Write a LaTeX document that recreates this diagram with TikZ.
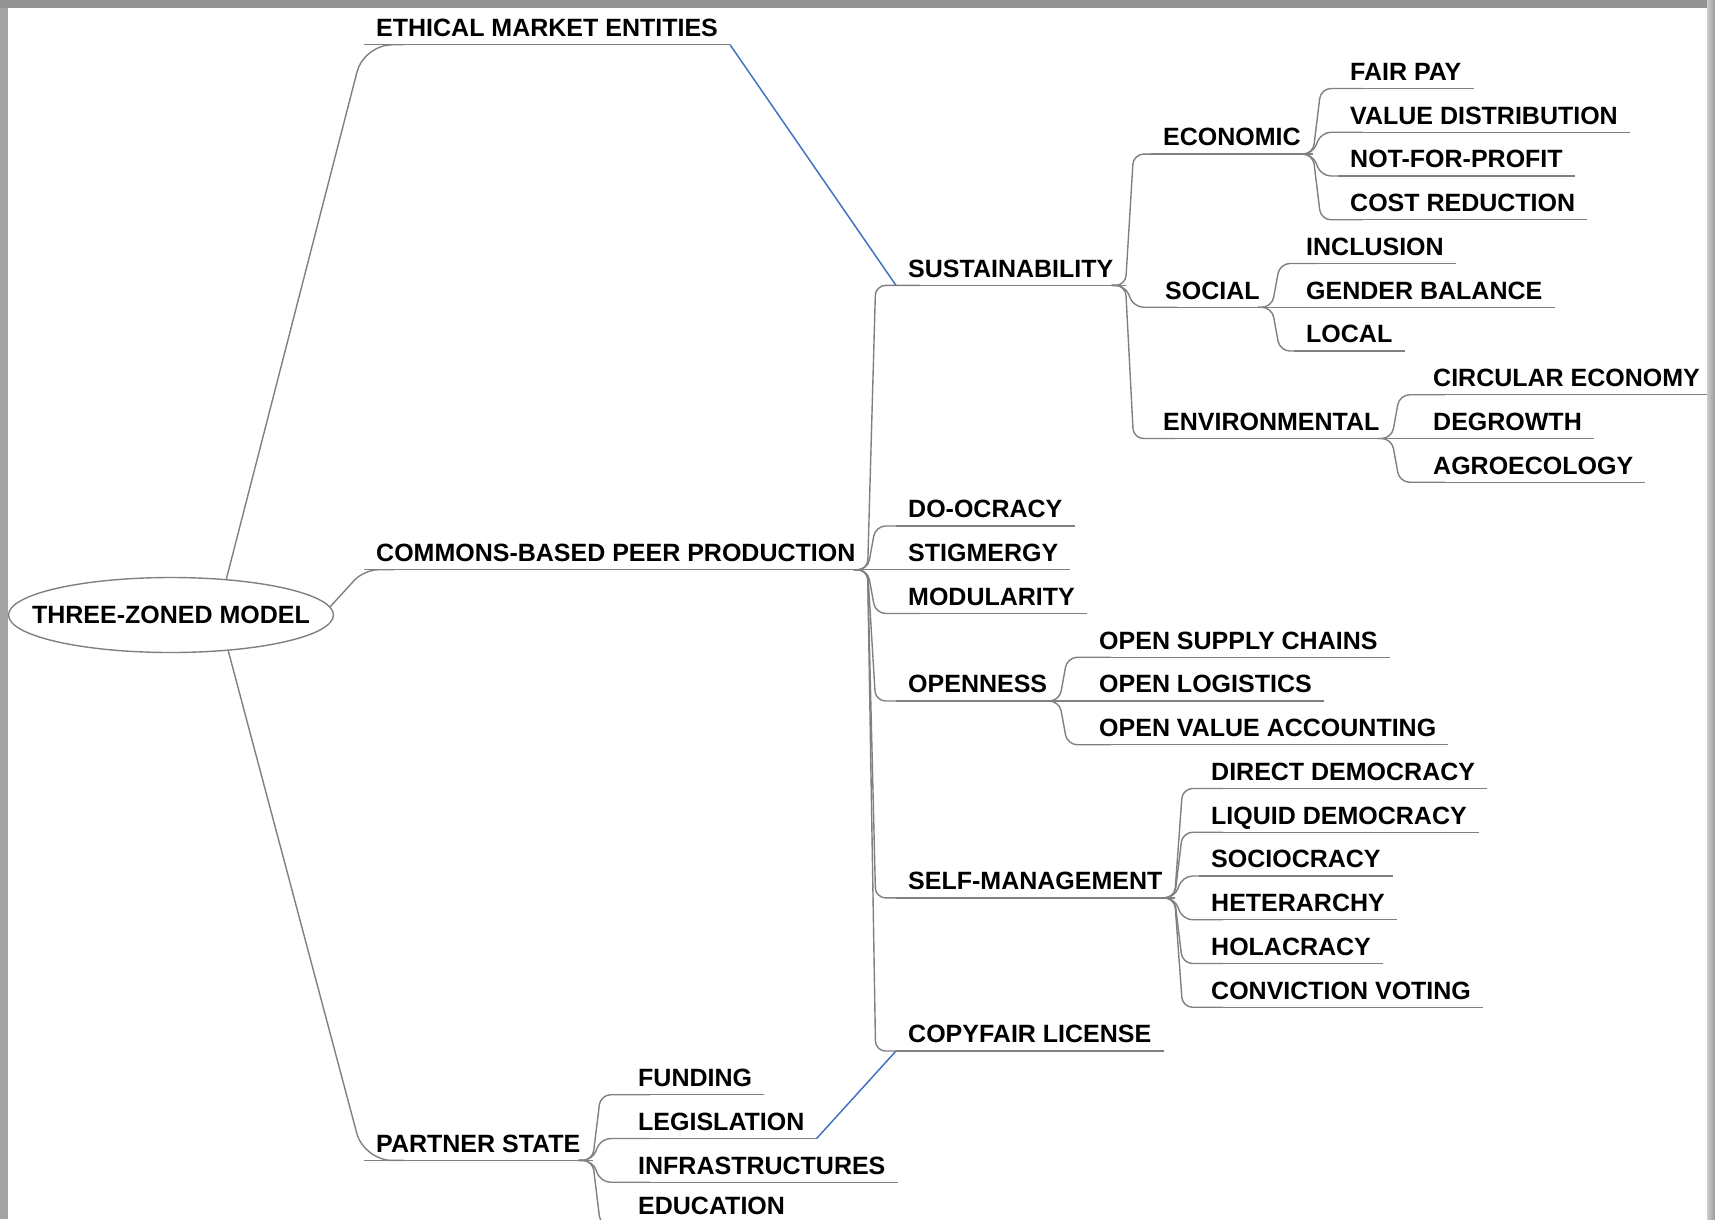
\documentclass[tikz,border=0pt]{standalone}
\usepackage{fontspec}
\setmainfont{Liberation Sans}
\usetikzlibrary{shapes.geometric,calc}
\definecolor{linegray}{RGB}{128,128,128}
\definecolor{linkblue}{RGB}{68,114,196}
\tikzset{
  item/.style={font=\bfseries\fontsize{25}{30}\selectfont, text=black, anchor=south west,
    inner xsep=12pt, inner ysep=0pt, text height=18pt, text depth=8pt},
  uline/.style={draw=linegray, line width=1.4pt},
  conn/.style={draw=linegray, line width=1.4pt, rounded corners=10pt},
  rootconn/.style={draw=linegray, line width=1.4pt, rounded corners=28pt},
  bluelink/.style={draw=linkblue, line width=1.5pt},
  rootnode/.style={ellipse, draw=linegray, line width=1.4pt, minimum width=324pt,
    minimum height=75pt, inner xsep=-24pt, inner ysep=0pt, text=black,
    font=\bfseries\fontsize{25}{30}\selectfont}
}
\newcommand{\fanlink}[2]{\draw[conn] ($(#1.south east)+(-14pt,0)$) -- (#1.south east) -- ($(#1.south east |- #2.south west)+(8pt,0)$) -- ($(#2.south west)+(24pt,0)$);}
\begin{document}
\begin{tikzpicture}[x=1pt,y=-1pt]
\useasboundingbox (0,0) rectangle (1715,1219);
\fill[white] (0,0) rectangle (1715,1219);

% root
\node[rootnode] (root) at (171,615) {THREE-ZONED MODEL};

% level 1
\node[item] (ethical) at (364,44.75) {ETHICAL MARKET ENTITIES};
\node[item] (commons) at (364,569.75) {COMMONS-BASED PEER PRODUCTION};
\node[item] (partner) at (364,1160.375) {PARTNER STATE};

% commons children
\node[item] (sust) at (896,285.375) {SUSTAINABILITY};
\node[item] (doocracy) at (896,526) {DO-OCRACY};
\node[item] (stigmergy) at (896,569.75) {STIGMERGY};
\node[item] (modularity) at (896,613.5) {MODULARITY};
\node[item] (openness) at (896,701) {OPENNESS};
\node[item] (selfm) at (896,897.875) {SELF-MANAGEMENT};
\node[item] (copyfair) at (896,1051) {COPYFAIR LICENSE};

% sustainability children
\node[item] (economic) at (1151,154.125) {ECONOMIC};
\node[item] (social) at (1153,307.25) {SOCIAL};
\node[item] (environ) at (1151,438.5) {ENVIRONMENTAL};

\node[item] (fairpay) at (1338,88.5) {FAIR PAY};
\node[item] (valuedist) at (1338,132.25) {VALUE DISTRIBUTION};
\node[item] (notprofit) at (1338,176) {NOT-FOR-PROFIT};
\node[item] (costred) at (1338,219.75) {COST REDUCTION};

\node[item] (inclusion) at (1294,263.5) {INCLUSION};
\node[item] (gender) at (1294,307.25) {GENDER BALANCE};
\node[item] (local) at (1294,351) {LOCAL};

\node[item] (circular) at (1421,394.75) {CIRCULAR ECONOMY};
\node[item] (degrowth) at (1421,438.5) {DEGROWTH};
\node[item] (agro) at (1421,482.25) {AGROECOLOGY};

% openness children
\node[item] (opensupply) at (1087,657.25) {OPEN SUPPLY CHAINS};
\node[item] (openlog) at (1087,701) {OPEN LOGISTICS};
\node[item] (openvalue) at (1087,744.75) {OPEN VALUE ACCOUNTING};

% self-management children
\node[item] (direct) at (1199,788.5) {DIRECT DEMOCRACY};
\node[item] (liquid) at (1199,832.25) {LIQUID DEMOCRACY};
\node[item] (socio) at (1199,876) {SOCIOCRACY};
\node[item] (heter) at (1199,919.75) {HETERARCHY};
\node[item] (hola) at (1199,963.5) {HOLACRACY};
\node[item] (conviction) at (1199,1007.25) {CONVICTION VOTING};

% partner state children
\node[item] (funding) at (626,1094.75) {FUNDING};
\node[item] (legis) at (626,1138.5) {LEGISLATION};
\node[item] (infra) at (626,1182.25) {INFRASTRUCTURES};
\node[item, anchor=base west, text depth=0pt] (education) at (626,1214) {EDUCATION};
\coordinate (educorner) at (626,1226);

% underlines
\foreach \n in {ethical,commons,partner,sust,doocracy,stigmergy,modularity,openness,selfm,copyfair,
  economic,social,environ,fairpay,valuedist,notprofit,costred,inclusion,gender,local,
  circular,degrowth,agro,opensupply,openlog,openvalue,direct,liquid,socio,heter,hola,conviction,
  funding,legis,infra}
  \draw[uline] (\n.south west) -- (\n.south east);

% root connectors
\draw[rootconn] (root.33) -- (ethical.south west) -- ++(40,0);
\draw[rootconn] (root.-32) -- (partner.south west) -- ++(40,0);
\draw[conn, rounded corners=14pt] (root.3) -- (commons.south west) -- ++(30,0);

% fans
\foreach \c in {sust,doocracy,stigmergy,modularity,openness,selfm,copyfair} {\fanlink{commons}{\c}}
\foreach \c in {economic,social,environ} {\fanlink{sust}{\c}}
\foreach \c in {fairpay,valuedist,notprofit,costred} {\fanlink{economic}{\c}}
\foreach \c in {inclusion,gender,local} {\fanlink{social}{\c}}
\foreach \c in {circular,degrowth,agro} {\fanlink{environ}{\c}}
\foreach \c in {opensupply,openlog,openvalue} {\fanlink{openness}{\c}}
\foreach \c in {direct,liquid,socio,heter,hola,conviction} {\fanlink{selfm}{\c}}
\foreach \c in {funding,legis,infra} {\fanlink{partner}{\c}}
\draw[conn] ($(partner.south east)+(-14pt,0)$) -- (partner.south east) -- ($(partner.south east |- educorner)+(8pt,0)$) -- ($(educorner)+(24pt,0)$);

% blue links
\draw[bluelink] (ethical.south east) -- (sust.south west);
\draw[bluelink] (legis.south east) -- (copyfair.south west);

% frame
\fill[gray!72] (0,0) rectangle (8,1219);
\shade[left color=gray!85, middle color=gray!45, right color=gray!85] (0,0) rectangle (1715,7);
\shade[left color=gray!40, right color=gray!80] (1707,0) rectangle (1715,1219);
\end{tikzpicture}
\end{document}
